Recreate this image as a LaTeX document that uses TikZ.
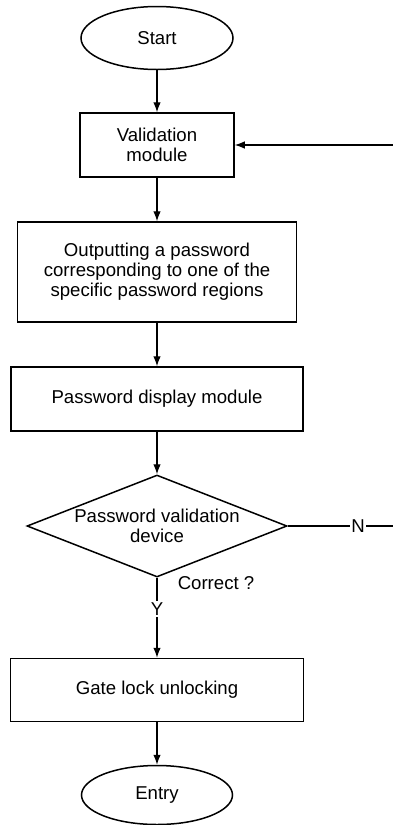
\documentclass[tikz,border=0pt]{standalone}
\usepackage{fontspec}
\setmainfont{Liberation Sans}
\usetikzlibrary{arrows.meta,shapes.geometric,positioning}
\tikzset{
  term/.style={ellipse,draw=black,line width=1.5pt,inner sep=0pt},
  proc/.style={rectangle,draw=black,line width=1.5pt,inner sep=0pt,align=center},
  dec/.style={diamond,draw=black,line width=1.5pt,inner sep=0pt,aspect=2.55,align=center},
  flw/.style={-{Latex[length=10pt,width=7.5pt]},line width=1.2pt},
  lnk/.style={line width=1.2pt},
  lb/.style={inner sep=1.5pt},
}

\begin{document}
\begin{tikzpicture}[x=1pt,y=-1pt,font=\fontsize{18.6}{20}\selectfont]
\useasboundingbox (0,0) rectangle (393,825);
% main column of the flow
\node[term,minimum width=152pt,minimum height=63pt] (start) at (157,38) {Start};
\node[proc,minimum width=154pt,minimum height=64pt] (valid) at (157,145) {Validation\\module};
\node[proc,minimum width=279pt,minimum height=100pt] (outpw) at (157,272)
  {Outputting a password\\corresponding to one of the\\specific password regions};
\node[proc,minimum width=292pt,minimum height=64pt] (disp) at (157,399) {Password display module};
\node[dec,minimum width=260pt,minimum height=102pt] (chk) at (157,526) {Password validation\\device};
\node[proc,minimum width=293pt,minimum height=63pt] (gate) at (157,690) {Gate lock unlocking};
\node[term,minimum width=151pt,minimum height=59pt] (entry) at (157,795) {Entry};
% labels of the decision
\node[lb] (ok) at (216,583) {Correct ?};
\node[lb] (ylab) at (157,609) {Y};
\node[lb] (nlab) at (358,526) {N};
\coordinate (nend) at (393,526);
\coordinate (back) at (393,145);
% connectors
\draw[flw] (start) -- (valid);
\draw[flw] (valid) -- (outpw);
\draw[flw] (outpw) -- (disp);
\draw[flw] (disp) -- (chk);
\draw[lnk] (chk.south) -- (ylab.north);
\draw[flw] (ylab.south) -- (gate.north);
\draw[flw] (gate) -- (entry);
\draw[lnk] (chk.east) -- (nlab.west) (nlab.east) -- (nend);
\draw[flw] (back) -- (valid.east);
\end{tikzpicture}
\end{document}
